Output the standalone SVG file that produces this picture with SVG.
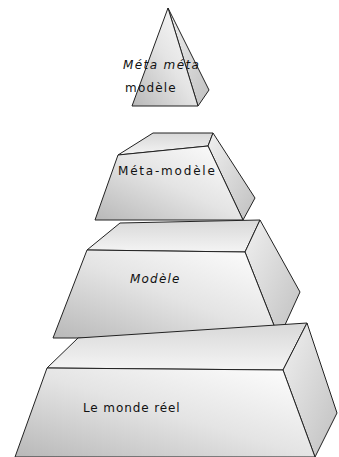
<svg xmlns="http://www.w3.org/2000/svg" width="339" height="457" viewBox="0 0 339 457">
<defs>
<linearGradient id="front" x1="1" y1="0" x2="0" y2="1">
<stop offset="0" stop-color="#ffffff"/>
<stop offset="0.5" stop-color="#e4e4e4"/>
<stop offset="1" stop-color="#b8b8b8"/>
</linearGradient>
<linearGradient id="top" x1="0" y1="0" x2="0" y2="1">
<stop offset="0" stop-color="#d8d8d8"/>
<stop offset="1" stop-color="#f4f4f4"/>
</linearGradient>
<linearGradient id="side" x1="0" y1="0" x2="1" y2="1">
<stop offset="0" stop-color="#f0f0f0"/>
<stop offset="1" stop-color="#c0c0c0"/>
</linearGradient>
<style>
.f{fill:url(#front)}.t{fill:url(#top)}.s{fill:url(#side)}
path{stroke:#222;stroke-width:1;stroke-linejoin:round}
text{font-family:"DejaVu Sans",sans-serif;font-size:12px;fill:#111}
</style>
</defs>
<rect width="339" height="457" fill="#fff"/>
<g id="meta-meta">
<path class="s" d="M168,8 L209,90 L198,106 Z"/>
<path class="f" d="M168,8 L198,106 L132,106 Z"/>
<text x="123" y="69" letter-spacing="1.4" font-style="italic">Méta méta</text>
<text x="125" y="92" letter-spacing="1.2">modèle</text>
</g>
<g id="meta-modele">
<path class="t" d="M153,133 L213,133 L208,146 L118,155 Z"/>
<path class="s" d="M213,133 L255,198 L243,220 L208,146 Z"/>
<path class="f" d="M118,155 L208,146 L243,220 L95,220 Z"/>
<text x="118" y="175" letter-spacing="1.8">Méta-modèle</text>
</g>
<g id="modele">
<path class="t" d="M120,223 L260,220 L245,252 L87,250 Z"/>
<path class="s" d="M260,220 L300,292 L279,338 L245,252 Z"/>
<path class="f" d="M87,250 L245,252 L279,338 L53,338 Z"/>
<text x="130" y="283" letter-spacing="1.2" font-style="italic">Modèle</text>
</g>
<g id="monde-reel">
<path class="t" d="M78,338 L307,323 L283,370 L47,368 Z"/>
<path class="s" d="M307,323 L337,413 L315,457 L283,370 Z"/>
<path class="f" d="M47,368 L283,370 L315,457 L15,457 Z"/>
<text x="83" y="412" letter-spacing="0.9">Le monde réel</text>
</g>
<g id="connectors"/>
</svg>
